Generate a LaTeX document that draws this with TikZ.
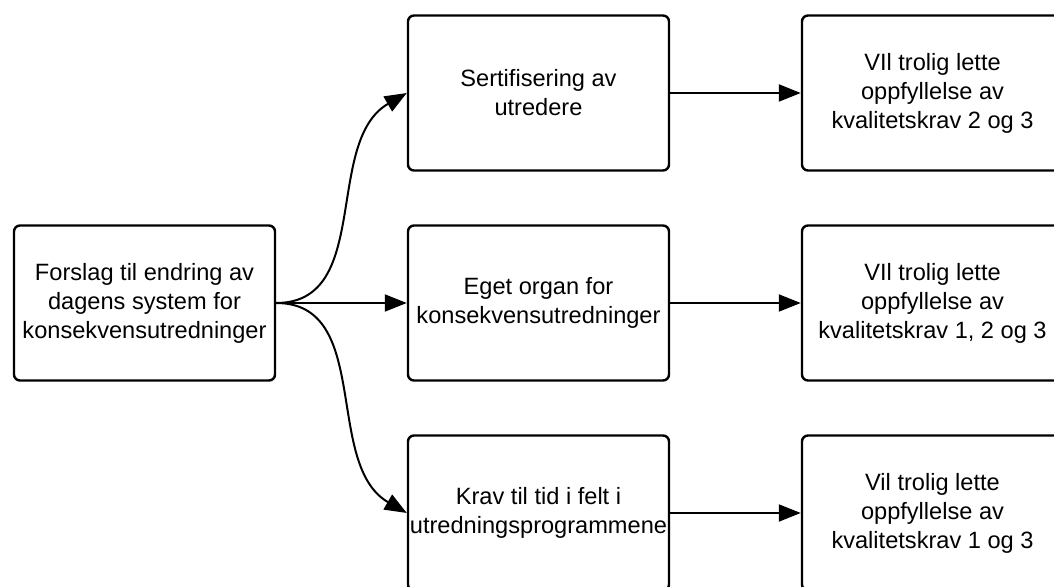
\documentclass[tikz,border=0pt]{standalone}
\usepackage{fontspec}
\setmainfont{Liberation Sans}
\usetikzlibrary{arrows.meta}
\pgfdeclarelayer{edgelayer}
\pgfdeclarelayer{nodelayer}
\pgfsetlayers{edgelayer,nodelayer,main}
\tikzstyle{block}=[rectangle,rounded corners=3pt,fill=white,draw=black,line width=1.2pt,minimum width=130.5pt,minimum height=77.5pt,inner sep=0pt,align=center,font=\fontsize{11.8pt}{14.5pt}\selectfont]
\tikzstyle{link}=[-{Triangle[length=11pt,width=8.5pt]},draw=black,line width=1pt]

\begin{document}
\begin{tikzpicture}[x=0.5pt,y=-0.5pt]
	\useasboundingbox (0,0) rectangle (1054,587);
	\begin{pgfonlayer}{nodelayer}
		\node [style=block] (0) at (144.5, 303) {Forslag til endring av\\dagens system for\\konsekvensutredninger};
		\node [style=block] (1) at (538.5, 93) {Sertifisering av\\utredere};
		\node [style=block] (2) at (538.5, 303) {Eget organ for\\konsekvensutredninger};
		\node [style=block] (3) at (538.5, 513) {Krav til tid i felt i\\utredningsprogrammene};
		\node [style=block] (4) at (932.5, 93) {VIl trolig lette\\oppfyllelse av\\kvalitetskrav 2 og 3};
		\node [style=block] (5) at (932.5, 303) {VIl trolig lette\\oppfyllelse av\\kvalitetskrav 1, 2 og 3};
		\node [style=block] (6) at (932.5, 513) {Vil trolig lette\\oppfyllelse av\\kvalitetskrav 1 og 3};
	\end{pgfonlayer}
	\begin{pgfonlayer}{edgelayer}
		\draw [style=link, out=0, in=210] (0.east) to (1.west);
		\draw [style=link] (0) to (2);
		\draw [style=link, out=0, in=150] (0.east) to (3.west);
		\draw [style=link] (1) to (4);
		\draw [style=link] (2) to (5);
		\draw [style=link] (3) to (6);
	\end{pgfonlayer}
\end{tikzpicture}
\end{document}
